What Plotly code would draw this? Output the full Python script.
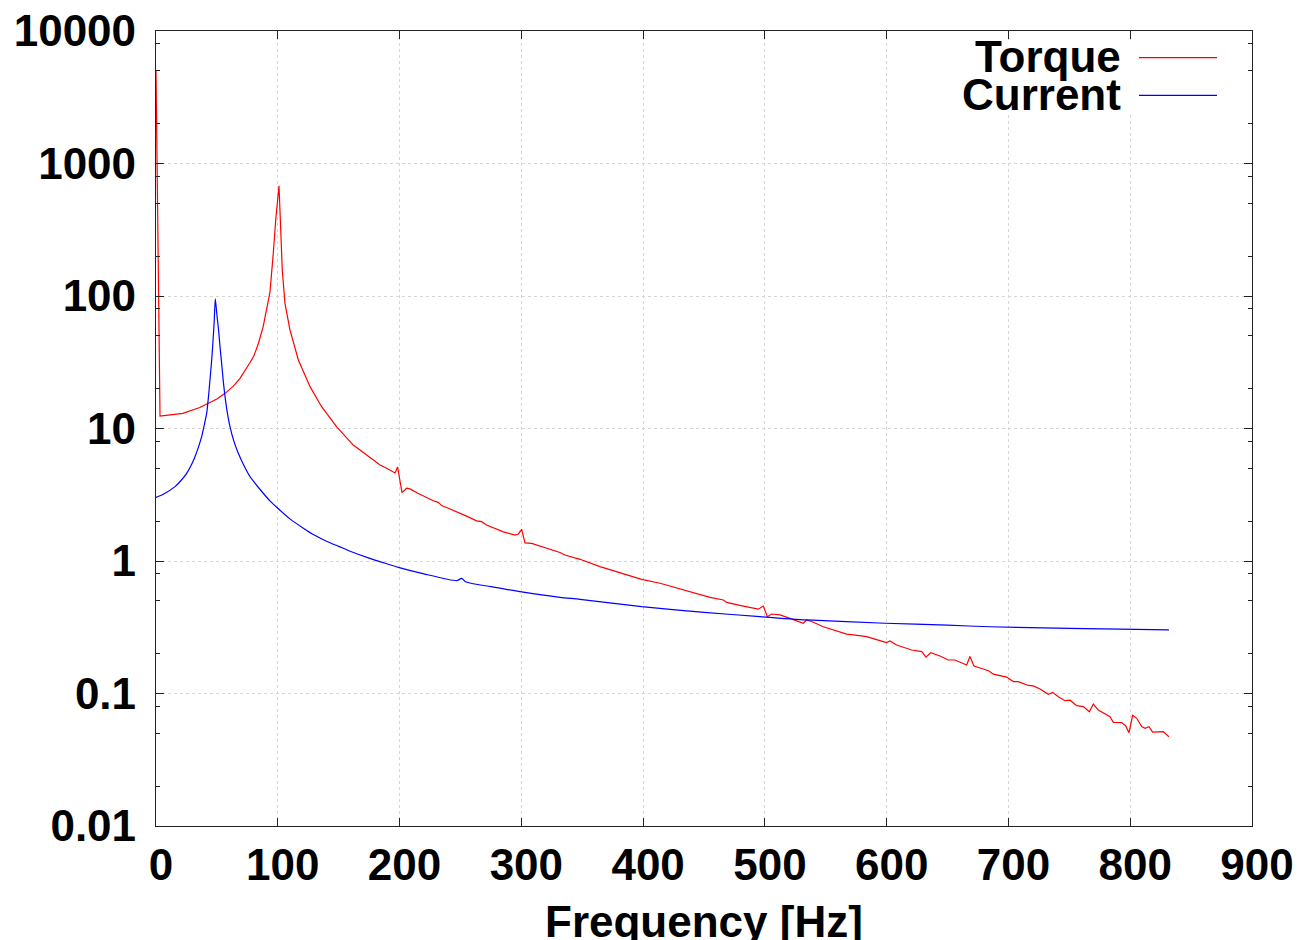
import plotly.graph_objects as go

# ---------------- data ----------------
torque_freq = [0, 3.3, 10, 22, 36, 50, 57, 63.5, 69, 73, 77, 80.5, 84, 88, 91, 93.6, 96.3, 98.3, 101,
               103.7, 105.9, 110, 116.9, 126.5, 136, 148.4, 162, 178.5, 184, 189.4, 194.9, 196.3,
               198.4, 202, 205.8, 208.5, 215, 221, 227.7, 231.8, 234.6, 240, 246.9, 255, 263.3,
               267.4, 271.5, 278, 285.2, 294.8, 297.6, 300.3, 303, 308.5, 320, 331.7, 335.8,
               348.2, 364.6, 375, 386.5, 398.8, 413.9, 425, 434.4, 445, 454.9, 465.9, 468.6,
               482.3, 494.6, 498.7, 502, 505.6, 512.4, 520.6, 531.5, 534.3, 539.8, 548, 561.7,
               567.2, 572.6, 583.6, 591, 600, 602.7, 608.2, 620.5, 628.8, 632.3, 636.1, 643.8,
               650.6, 656.1, 665.7, 668.4, 671.7, 679.4, 684, 687.6, 694.4, 698.5, 704, 708.1,
               716.3, 720.4, 725.9, 732.7, 736.3, 741, 746.5, 750.6, 756, 761.5, 766.4, 769.7,
               773.8, 779.3, 783.4, 786.1, 793, 796.3, 799, 802, 805.3, 809.4, 812.2, 815.4,
               818.4, 827.1, 831.8]
torque_val = [5000, 12.4, 12.6, 13.0, 14.4, 16.7, 18.5, 20.9, 23.9, 27, 31.2, 35.5, 43.6, 58.7, 79,
              107, 210, 375, 680, 157, 88, 55.4, 32.9, 20.7, 14.6, 10.3, 7.5, 5.78, 5.3, 5.02, 4.67,
              4.62, 5.12, 3.28, 3.54, 3.5, 3.25, 3.05, 2.85, 2.77, 2.62, 2.5, 2.36, 2.18, 2.01, 1.98,
              1.87, 1.77, 1.66, 1.57, 1.6, 1.73, 1.37, 1.36, 1.26, 1.16, 1.11, 1.03, 0.906, 0.85,
              0.784, 0.727, 0.679, 0.635, 0.597, 0.565, 0.532, 0.508, 0.487, 0.457, 0.433, 0.457,
              0.38, 0.398, 0.392, 0.369, 0.339, 0.359, 0.345, 0.319, 0.292, 0.281, 0.277, 0.269,
              0.256, 0.242, 0.249, 0.232, 0.213, 0.207, 0.188, 0.203, 0.192, 0.179, 0.179, 0.164,
              0.19, 0.161, 0.153, 0.148, 0.140, 0.136, 0.133, 0.123, 0.123, 0.115, 0.114, 0.108,
              0.0987, 0.102, 0.0946, 0.0883, 0.089, 0.081, 0.0797, 0.0729, 0.0833, 0.075, 0.0696,
              0.0668, 0.0606, 0.0603, 0.0569, 0.0506, 0.0684, 0.065, 0.0562, 0.0546, 0.0562,
              0.0512, 0.0516, 0.0472]

current_freq = [0, 6, 15.6, 20, 25.2, 29, 32, 35, 37.5, 39.5, 41.6, 43, 44.3, 45.5, 46.5, 47.7, 48.7,
                50, 51.4, 52.6, 53.9, 55.2, 56.7, 58.5, 60.8, 64, 67.6, 72, 77.2, 85, 93.6, 100,
                110, 121, 130, 140, 150, 160, 175, 190, 199, 220, 246.9, 251, 254.6, 275,
                298.9, 331.7, 348.2, 398.8, 450, 496, 534.3, 598.6, 650, 684.9, 750, 831.8]
current_val = [3.02, 3.19, 3.64, 4.0, 4.59, 5.3, 6.13, 7.3, 8.67, 10.5, 13.0, 17, 23.2, 31, 41.4, 62,
               95, 72, 55.4, 41, 31, 23, 17.4, 13.3, 10.3, 8.0, 6.5, 5.3, 4.33, 3.51, 2.84, 2.5,
               2.08, 1.77, 1.57, 1.41, 1.29, 1.18, 1.05, 0.95, 0.896, 0.80, 0.71, 0.74, 0.694,
               0.64, 0.587, 0.532, 0.514, 0.452, 0.41, 0.38, 0.359, 0.339, 0.328, 0.319, 0.31, 0.302]

x_ticks = [0, 100, 200, 300, 400, 500, 600, 700, 800, 900]
y_ticks = [0.01, 0.1, 1, 10, 100, 1000, 10000]
y_tick_labels = ["0.01", "0.1", "1", "10", "100", "1000", "10000"]
y_minor = [m * d for d in [0.01, 0.1, 1, 10, 100, 1000] for m in (2, 5, 8)]

series_names = ["Torque", "Current"]
series_colors = ["#ff0000", "#0000ff"]

# ---------------- figure ----------------
FONT = "Liberation Sans, Arial, sans-serif"
W, H = 1298, 940
L, R, T, B = 156, 46, 31, 114
PW, PH = W - L - R, H - T - B


def px_x(p):
    return (p - L) / PW


def px_y(p):
    return (H - B - p) / PH


fig = go.Figure()
fig.add_trace(go.Scatter(x=torque_freq, y=torque_val, mode="lines", name=series_names[0],
                         line=dict(color=series_colors[0], width=1.2), showlegend=False))
fig.add_trace(go.Scatter(x=current_freq, y=current_val, mode="lines", name=series_names[1],
                         line=dict(color=series_colors[1], width=1.2, shape="spline", smoothing=0.6),
                         showlegend=False))

axis_common = dict(showline=True, linecolor="#222222", linewidth=1.3, mirror="ticks",
                   ticks="inside", ticklen=8, tickcolor="#222222", tickwidth=1.2,
                   showgrid=True, gridcolor="#d6d6d6", griddash="dot", gridwidth=1,
                   zeroline=False, automargin=False,
                   tickfont=dict(family=FONT, size=44, color="black", weight="bold"))

fig.update_xaxes(range=[0, 900], tickmode="array", tickvals=x_ticks, ticklabelstandoff=0,
                 ticklabelshift=5, **axis_common)
fig.update_yaxes(type="log", range=[-2, 4], tickmode="array", tickvals=y_ticks,
                 ticktext=y_tick_labels, ticklabelstandoff=10,
                 minor=dict(tickmode="array", tickvals=y_minor, ticks="inside", ticklen=4,
                            tickcolor="#222222", showgrid=False),
                 **axis_common)

shapes = [
    dict(type="rect", xref="paper", yref="paper", x0=px_x(955), x1=px_x(1228),
         y0=px_y(114), y1=px_y(40), fillcolor="white", line=dict(width=0), layer="above"),
    dict(type="line", xref="paper", yref="paper", x0=px_x(1139), x1=px_x(1217),
         y0=px_y(57.7), y1=px_y(57.7), line=dict(color=series_colors[0], width=1.2), layer="above"),
    dict(type="line", xref="paper", yref="paper", x0=px_x(1139), x1=px_x(1217),
         y0=px_y(95.3), y1=px_y(95.3), line=dict(color=series_colors[1], width=1.2), layer="above"),
]

annotations = [
    dict(text=series_names[0], xref="paper", yref="paper", x=px_x(1123), y=px_y(57),
         xanchor="right", yanchor="middle", showarrow=False,
         font=dict(family=FONT, size=44, color="black", weight="bold")),
    dict(text=series_names[1], xref="paper", yref="paper", x=px_x(1123), y=px_y(95),
         xanchor="right", yanchor="middle", showarrow=False,
         font=dict(family=FONT, size=44, color="black", weight="bold")),
    dict(text="Frequency [Hz]", xref="paper", yref="paper", x=0.5, y=px_y(921),
         xanchor="center", yanchor="middle", showarrow=False,
         font=dict(family=FONT, size=44, color="black", weight="bold")),
]

fig.update_layout(width=W, height=H, margin=dict(l=L, r=R, t=T, b=B, pad=0),
                  paper_bgcolor="white", plot_bgcolor="white",
                  shapes=shapes, annotations=annotations, showlegend=False)

fig.write_html("out.html")
